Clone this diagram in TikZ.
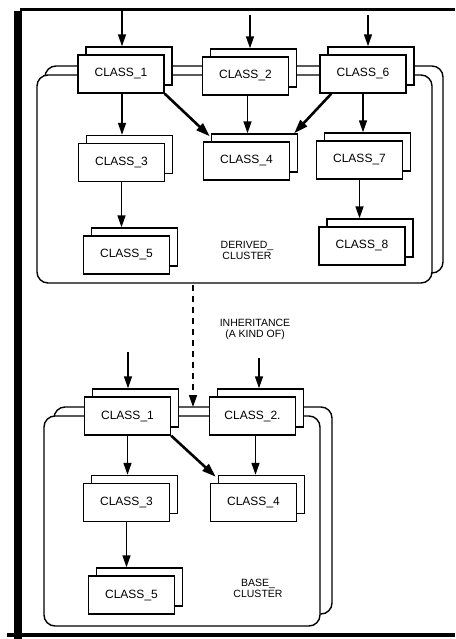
\documentclass[tikz,border=0pt]{standalone}
\usepackage{fontspec}
\setmainfont{Liberation Sans}
\usetikzlibrary{arrows.meta,positioning}
\tikzset{
  cls/.style={draw, line width=1.4pt, fill=white, minimum width=86pt, minimum height=38pt, inner sep=0pt, font=\fontsize{12}{12}\selectfont},
  clsback/.style={draw, line width=1.4pt, fill=white, minimum width=86pt, minimum height=38pt, inner sep=0pt},
  cluster/.style={draw, line width=1.4pt, fill=white, rounded corners=11pt},
  arr/.style={line width=1.5pt, -{Triangle[length=12pt,width=8pt]}},
  thickarr/.style={line width=2.6pt, -{Triangle[length=14pt,width=9pt]}},
  dasharr/.style={line width=1.5pt, dash pattern=on 6pt off 5pt, -{Triangle[length=12pt,width=8pt]}},
  lbl/.style={align=center, font=\fontsize{10.5}{11}\selectfont, inner sep=0pt}
}
\newcommand{\classbox}[3]{%
  \node[clsback] (#1b) at ([xshift=8pt,yshift=8pt]#2) {};
  \node[cls] (#1) at (#2) {#3};
}
\begin{document}
\begin{tikzpicture}[x=1pt,y=-1pt]
\useasboundingbox (0,0) rectangle (455,639);
% frame
\fill[black] (14,11) rectangle (22,639);
\fill[black] (20,8.5) rectangle (455,11.5);
\fill[black] (7,632.5) rectangle (455,637);

% derived cluster
\draw[cluster] (45,66) rectangle (443,273);
\draw[cluster] (37,75) rectangle (432,283);

\classbox{d1}{121,74}{CLASS\_1}
\classbox{d2}{245.5,76}{CLASS\_2}
\classbox{d6}{363,74}{CLASS\_6}
\classbox{d3}{121.5,162.5}{CLASS\_3}
\classbox{d4}{246.5,161}{CLASS\_4}
\classbox{d7}{359.5,160}{CLASS\_7}
\classbox{d5}{126.5,255}{CLASS\_5}
\classbox{d8}{362,246}{CLASS\_8}

\node[lbl] (dlab) at (247,250) {DERIVED\_\\CLUSTER};

\coordinate (in1) at (122,11);
\coordinate (in2) at (250,15);
\coordinate (in6) at (368,15);
\draw[arr] (in1) -- (in1 |- d1b.north);
\draw[arr] (in2) -- (in2 |- d2b.north);
\draw[arr] (in6) -- (in6 |- d6b.north);

\draw[arr] ([xshift=1pt]d1.south) -- ([xshift=1pt]d1.south |- d3b.north);
\draw[thickarr] (d1.south east) -- ([xshift=-1pt,yshift=-3pt]d4b.north west);
\draw[arr] ([xshift=2pt]d2.south) -- ([xshift=2pt]d2.south |- d4b.north);
\draw[thickarr] ([xshift=12pt]d6.south west) -- ([xshift=-4pt]d4b.north east);
\draw[arr] (d6.south) -- (d6.south |- d7b.north);
\draw[arr] (d3.south) -- (d3.south |- d5b.north);
\draw[arr] (d7.south) -- (d7.south |- d8b.north);

% base cluster
\draw[cluster] (54,407) rectangle (332,614);
\draw[cluster] (44,416) rectangle (320,626);

\classbox{b1}{127.5,416}{CLASS\_1}
\classbox{b2}{252.5,416}{CLASS\_2.}
\classbox{b3}{126.5,502.5}{CLASS\_3}
\classbox{b4}{253.5,502.5}{CLASS\_4}
\classbox{b5}{131.5,595}{CLASS\_5}

\node[lbl] (blab) at (258,588) {BASE\_\\CLUSTER};

\coordinate (ib1) at (128,352);
\coordinate (ib2) at (259,358);
\draw[arr] (ib1) -- (ib1 |- b1b.north);
\draw[arr] (ib2) -- (ib2 |- b2b.north);
\draw[arr] (b1.south) -- (b1.south |- b3b.north);
\draw[thickarr] (b1.south east) -- ([xshift=-2pt,yshift=-2pt]b4b.north west);
\draw[arr] ([xshift=3pt]b2.south) -- ([xshift=3pt]b2.south |- b4b.north);
\draw[arr] (b3.south) -- (b3.south |- b5b.north);

% inheritance
\coordinate (inhs) at (193,285);
\coordinate (inhe) at (193,407);
\draw[dasharr] (inhs) -- (inhe);
\node[lbl] (ilab) at (255,329) {INHERITANCE\\(A KIND OF)};
\end{tikzpicture}
\end{document}
